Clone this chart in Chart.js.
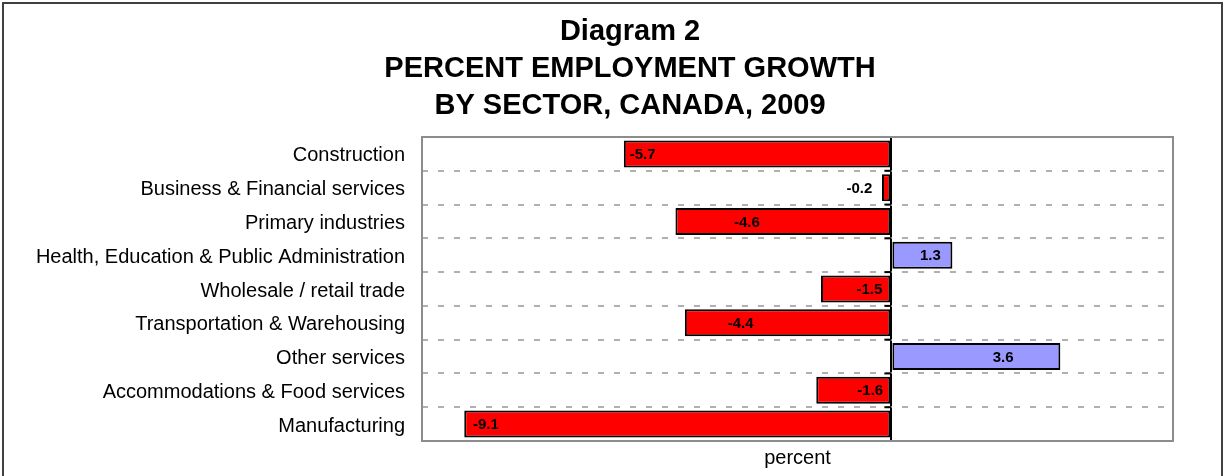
<!DOCTYPE html>
<html>
<head>
<meta charset="utf-8">
<script src="https://cdn.jsdelivr.net/npm/chart.js@4.4.0/dist/chart.umd.min.js"></script>
<style>
  html, body { margin: 0; padding: 0; background: #fff; }
  #wrap { position: relative; width: 1226px; height: 476px; }
</style>
</head>
<body>
<div id="wrap"><canvas id="chart" width="1226" height="476"></canvas></div>
<script>
const sectors = ['Construction', 'Business & Financial services', 'Primary industries',
    'Health, Education & Public Administration', 'Wholesale / retail trade',
    'Transportation & Warehousing', 'Other services', 'Accommodations & Food services', 'Manufacturing'];
const growth = [-5.7, -0.2, -4.6, 1.3, -1.5, -4.4, 3.6, -1.6, -9.1];
// where each value label sits along the axis (percent units)
const labelAt = [-5.3, -0.68, -3.08, 0.83, -0.47, -3.21, 2.38, -0.45, -8.64];
const titleLines = ['Diagram 2', 'PERCENT EMPLOYMENT GROWTH', 'BY SECTOR, CANADA, 2009'];
const axisTitle = 'percent';
const axisMin = -10, axisMax = 6;

const FONT = '"Liberation Sans", Arial, sans-serif';

const decor = {
    id: 'decor',
    beforeDraw(chart) {
        const ctx = chart.ctx;
        ctx.save();
        ctx.strokeStyle = '#404040';
        ctx.lineWidth = 2;
        ctx.strokeRect(3, 3, 1219, 520);
        ctx.fillStyle = '#000';
        ctx.font = 'bold 29px ' + FONT;
        ctx.textAlign = 'center';
        ctx.textBaseline = 'middle';
        titleLines.forEach((t, i) => ctx.fillText(t, 630, 32 + i * 37));
        ctx.restore();
    },
    afterDatasetsDraw(chart) {
        const { ctx, chartArea: a, scales: { x, y } } = chart;
        const zero = x.getPixelForValue(0);
        ctx.save();
        // tick marks on the zero axis
        ctx.strokeStyle = '#000';
        ctx.lineWidth = 2;
        for (let i = 0; i <= sectors.length; i++) {
            const py = y.getPixelForValue(i - 0.5);
            ctx.beginPath();
            ctx.moveTo(zero - 7, py);
            ctx.lineTo(zero, py);
            ctx.stroke();
        }
        // plot frame
        ctx.strokeStyle = '#8c8c8c';
        ctx.strokeRect(a.left, a.top, a.width, a.height);
        // value labels
        ctx.fillStyle = '#000';
        ctx.font = 'bold 15px ' + FONT;
        ctx.textAlign = 'center';
        ctx.textBaseline = 'middle';
        growth.forEach((v, i) => ctx.fillText(v.toFixed(1), x.getPixelForValue(labelAt[i]), y.getPixelForValue(i) + 1));
        ctx.restore();
    }
};

new Chart(document.getElementById('chart').getContext('2d'), {
    type: 'bar',
    data: {
        labels: sectors,
        datasets: [{
            data: growth,
            backgroundColor: growth.map(v => v < 0 ? '#FF0000' : '#9999FF'),
            borderColor: '#000',
            borderWidth: 2,
            borderSkipped: false,
            barPercentage: 0.8,
            categoryPercentage: 1
        }]
    },
    options: {
        indexAxis: 'y',
        responsive: false,
        animation: false,
        layout: { padding: { top: 137, right: 53, bottom: 0, left: 0 } },
        plugins: {
            legend: { display: false },
            tooltip: { enabled: false },
            title: { display: false }
        },
        scales: {
            x: {
                min: axisMin,
                max: axisMax,
                ticks: { display: false, stepSize: 2 },
                grid: {
                    drawTicks: false,
                    lineWidth: 2,
                    color: c => (c.tick && c.tick.value === 0) ? '#000' : 'rgba(0,0,0,0)'
                },
                border: { display: false },
                title: {
                    display: true,
                    text: axisTitle,
                    color: '#000',
                    font: { family: FONT, size: 20 },
                    padding: { top: 0, bottom: 6 }
                },
                afterFit: s => { s.height = 35; }
            },
            y: {
                ticks: { color: '#000', font: { family: FONT, size: 20 }, padding: 17, labelOffset: 2 },
                grid: { color: '#b0b0b0', lineWidth: 2, drawTicks: false, offset: true },
                border: { display: false, dash: [6, 10] },
                afterFit: s => { s.width = 422; }
            }
        }
    },
    plugins: [decor]
});
</script>
</body>
</html>
